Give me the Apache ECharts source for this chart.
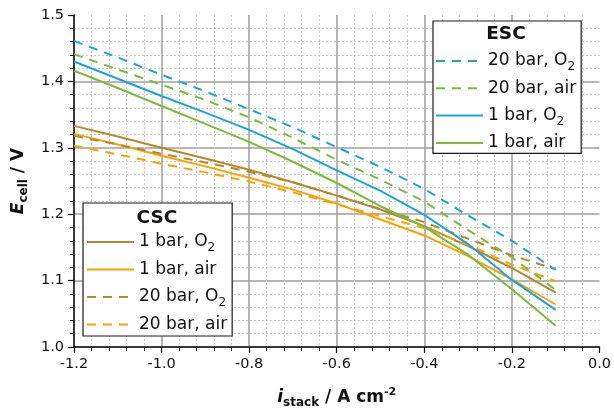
<!DOCTYPE html>
<html>
<head>
<meta charset="utf-8">
<script src="https://cdn.jsdelivr.net/npm/echarts@6/dist/echarts.min.js"></script>
<style>
html,body{margin:0;padding:0;background:#fff;}
#chart{width:614px;height:414px;}
</style>
</head>
<body>
<div id="chart"></div>
<script>
// ---- data ----
const xs = [-1.2, -1.1, -1.0, -0.9, -0.8, -0.7, -0.6, -0.5, -0.4, -0.3, -0.2, -0.1];
const escO2_20  = [1.461, 1.436, 1.410, 1.385, 1.358, 1.331, 1.301, 1.271, 1.238, 1.198, 1.160, 1.116];
const escAir_20 = [1.441, 1.418, 1.395, 1.372, 1.346, 1.315, 1.282, 1.252, 1.219, 1.176, 1.135, 1.086];
const escO2_1   = [1.430, 1.404, 1.378, 1.353, 1.327, 1.298, 1.266, 1.235, 1.199, 1.155, 1.101, 1.056];
const escAir_1  = [1.416, 1.390, 1.363, 1.336, 1.309, 1.279, 1.247, 1.212, 1.181, 1.139, 1.087, 1.032];
const cscO2_1   = [1.333, 1.317, 1.300, 1.284, 1.267, 1.248, 1.228, 1.207, 1.182, 1.152, 1.119, 1.082];
const cscAir_1  = [1.321, 1.305, 1.288, 1.272, 1.255, 1.237, 1.216, 1.192, 1.168, 1.137, 1.102, 1.064];
const cscO2_20  = [1.318, 1.305, 1.291, 1.278, 1.264, 1.248, 1.228, 1.208, 1.188, 1.163, 1.138, 1.117];
const cscAir_20 = [1.303, 1.290, 1.276, 1.263, 1.249, 1.233, 1.215, 1.197, 1.179, 1.154, 1.124, 1.099];
const escNames = ['ESC 20 bar, O2', 'ESC 20 bar, air', 'ESC 1 bar, O2', 'ESC 1 bar, air'];
const cscNames = ['CSC 1 bar, O2', 'CSC 1 bar, air', 'CSC 20 bar, O2', 'CSC 20 bar, air'];
const groupTitles = ['ESC', 'CSC'];

// ---- styles ----
const BLUE = '#1ba3e1', GREEN = '#7cbb3a', BROWN = '#b7872c', ORANGE = '#fba200';
const DASH = [9, 7];
const FONT = 'DejaVu Sans';

function mk(name, vals, color, dashed) {
  return {
    name: name, type: 'line',
    data: xs.map((x, i) => [x, vals[i]]),
    symbol: 'none', showSymbol: false,
    lineStyle: { color: color, width: 2, type: dashed ? DASH : 'solid' },
    itemStyle: { color: color },
    emphasis: { disabled: true }
  };
}

const series = [
  mk(cscNames[0], cscO2_1, BROWN, false),
  mk(cscNames[1], cscAir_1, ORANGE, false),
  mk(cscNames[2], cscO2_20, BROWN, true),
  mk(cscNames[3], cscAir_20, ORANGE, true),
  mk(escNames[0], escO2_20, BLUE, true),
  mk(escNames[1], escAir_20, GREEN, true),
  mk(escNames[2], escO2_1, BLUE, false),
  mk(escNames[3], escAir_1, GREEN, false)
];

function legendFmt(name) {
  const s = name.replace(/^(ESC|CSC) /, '');
  if (/O2$/.test(s)) return '{t|' + s.slice(0, -1) + '}{s|2}';
  return '{t|' + s + '}';
}
const legendText = {
  fontFamily: FONT, fontSize: 17, color: '#111',
  rich: {
    t: { fontFamily: FONT, fontSize: 17, lineHeight: 24, verticalAlign: 'middle', color: '#111' },
    s: { fontFamily: FONT, fontSize: 12, lineHeight: 12, padding: [12, 0, 0, 0], verticalAlign: 'bottom', color: '#111' }
  }
};
function mkLegend(names, left, top, padding, gap) {
  return {
    data: names, orient: 'vertical', left: left, top: top,
    padding: padding, itemGap: gap, itemWidth: 47, itemHeight: 14,
    backgroundColor: '#fff', borderColor: '#1a1a1a', borderWidth: 1.2, borderRadius: 0,
    selectedMode: false,
    itemStyle: { opacity: 0 },
    lineStyle: { width: 2 },
    formatter: legendFmt, textStyle: legendText
  };
}

const tickFmt = v => (Math.abs(v) < 1e-9 ? '0.0' : v.toFixed(1));

const option = {
  animation: false,
  backgroundColor: '#fff',
  grid: { left: 74, right: 11, top: 15, bottom: 67, containLabel: false },
  xAxis: {
    type: 'value', min: -1.2, max: 0, interval: 0.2,
    axisLine: { show: true, onZero: false, lineStyle: { color: '#111', width: 1.5 } },
    axisTick: { show: true, length: 6, lineStyle: { color: '#111', width: 1.2 } },
    minorTick: { show: true, splitNumber: 5, length: 4, lineStyle: { color: '#111', width: 1 } },
    axisLabel: { formatter: tickFmt, fontFamily: FONT, fontSize: 14.5, color: '#111', margin: 10, showMaxLabel: true, showMinLabel: true },
    splitLine: { show: true, showMaxLine: false, lineStyle: { color: '#9e9e9e', width: 1.5 } },
    minorSplitLine: { show: true, lineStyle: { color: '#c8c8c8', width: 1, type: [2, 2] } },
    name: '{i|i}{sub|stack}{n| / A cm}{sup|-2}',
    nameLocation: 'middle', nameGap: 40,
    nameTextStyle: {
      rich: {
        i: { fontFamily: FONT, fontSize: 17, fontWeight: 'bold', fontStyle: 'italic', lineHeight: 22, verticalAlign: 'middle', color: '#111' },
        n: { fontFamily: FONT, fontSize: 17, fontWeight: 'bold', lineHeight: 22, verticalAlign: 'middle', color: '#111' },
        sub: { fontFamily: FONT, fontSize: 12, fontWeight: 'bold', lineHeight: 12, padding: [10, 0, 0, 0], verticalAlign: 'bottom', color: '#111' },
        sup: { fontFamily: FONT, fontSize: 11, fontWeight: 'bold', lineHeight: 12, verticalAlign: 'top', color: '#111' }
      }
    }
  },
  yAxis: {
    type: 'value', min: 1.0, max: 1.5, interval: 0.1,
    axisLine: { show: true, onZero: false, lineStyle: { color: '#111', width: 1.5 } },
    axisTick: { show: true, length: 6, lineStyle: { color: '#111', width: 1.2 } },
    minorTick: { show: true, splitNumber: 5, length: 4, lineStyle: { color: '#111', width: 1 } },
    axisLabel: { formatter: tickFmt, fontFamily: FONT, fontSize: 14.5, color: '#111', margin: 10 },
    splitLine: { show: true, showMaxLine: false, lineStyle: { color: '#9e9e9e', width: 1.5 } },
    minorSplitLine: { show: true, lineStyle: { color: '#c8c8c8', width: 1, type: [2, 2] } },
    name: '{e|E}{sub|cell}{n| / V}',
    nameLocation: 'middle', nameGap: 38, nameRotate: 90,
    nameTextStyle: {
      rich: {
        e: { fontFamily: FONT, fontSize: 17, fontWeight: 'bold', fontStyle: 'italic', lineHeight: 22, verticalAlign: 'middle', color: '#111' },
        n: { fontFamily: FONT, fontSize: 17, fontWeight: 'bold', lineHeight: 22, verticalAlign: 'middle', color: '#111' },
        sub: { fontFamily: FONT, fontSize: 12, fontWeight: 'bold', lineHeight: 12, padding: [10, 0, 0, 0], verticalAlign: 'bottom', color: '#111' }
      }
    }
  },
  legend: [
    mkLegend(escNames, 433, 21, [28, 5, 2, 2], 6.8),
    mkLegend(cscNames, 83, 203, [27, 5, 3, 3], 7)
  ],
  graphic: [
    { type: 'text', x: 506, y: 34, z: 100, style: { text: groupTitles[0], font: 'bold 18.5px "DejaVu Sans"', fill: '#111', textAlign: 'center', textVerticalAlign: 'middle' } },
    { type: 'text', x: 157, y: 218, z: 100, style: { text: groupTitles[1], font: 'bold 18.5px "DejaVu Sans"', fill: '#111', textAlign: 'center', textVerticalAlign: 'middle' } }
  ],
  series: series
};

const chart = echarts.init(document.getElementById('chart'), null, { renderer: 'canvas' });
chart.setOption(option);
</script>
</body>
</html>
